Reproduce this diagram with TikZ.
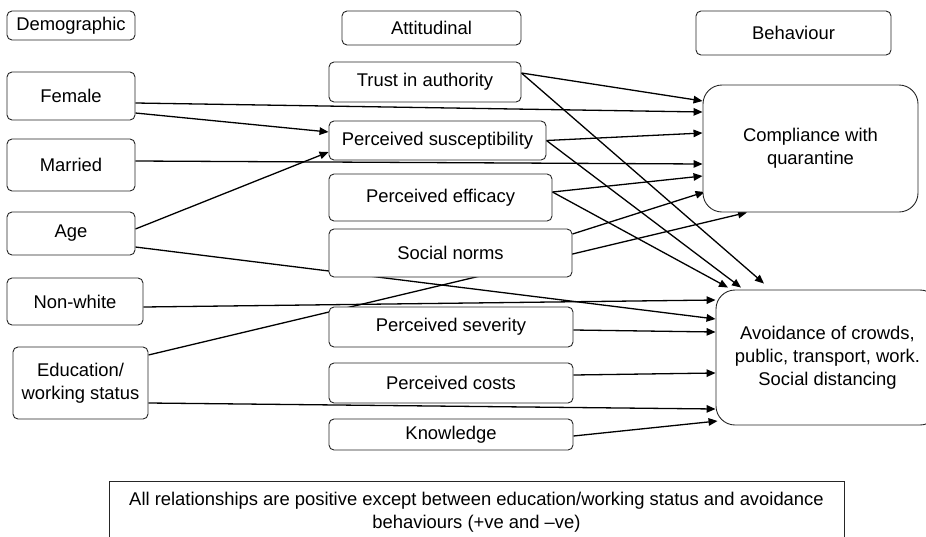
\documentclass[tikz,border=0pt]{standalone}
\usepackage{fontspec}
\setmainfont{Liberation Sans}
\usetikzlibrary{arrows.meta,backgrounds}
\begin{document}
\begin{tikzpicture}[x=1pt,y=-1pt,
  box/.style={draw=black!85, fill=white, rounded corners=5pt, line width=0.9pt,
    align=center, inner sep=0pt, font=\fontsize{18.4}{23}\selectfont},
  bigbox/.style={box, rounded corners=19pt},
  conn/.style={line width=1.3pt, -{Triangle[length=9pt,width=7.5pt]}},
  plain/.style={line width=1.3pt}]
\useasboundingbox (0,0) rectangle (926,536);
% demographic column
\node[box, minimum width=128pt, minimum height=29pt] (demo) at (71,25.5) {Demographic};
\node[box, minimum width=128pt, minimum height=48pt] (female) at (71,96) {Female};
\node[box, minimum width=128pt, minimum height=52pt] (married) at (71,165) {Married};
\node[box, minimum width=128pt, minimum height=43pt] (age) at (71,233.5) {Age};
\node[box, minimum width=136pt, minimum height=47pt] (nonwhite) at (75,301.5) {Non-white};
\node[box, minimum width=135pt, minimum height=72pt] (edu) at (80.5,383) {Education/\\working status};
% attitudinal column
\node[box, minimum width=179pt, minimum height=34pt] (att) at (431.5,28) {Attitudinal};
\node[box, minimum width=192pt, minimum height=40pt] (trust) at (425,82) {Trust in authority};
\node[box, minimum width=217pt, minimum height=39pt] (susc) at (437.5,140.5) {Perceived susceptibility};
\node[box, minimum width=223pt, minimum height=47pt] (eff) at (440.5,197.5) {Perceived efficacy};
\node[box, minimum width=243pt, minimum height=48pt] (norms) at (450.5,253) {Social norms};
\node[box, minimum width=244pt, minimum height=40pt] (sev) at (451,327) {Perceived severity};
\node[box, minimum width=244pt, minimum height=40pt] (costs) at (451,383) {Perceived costs};
\node[box, minimum width=244pt, minimum height=31pt] (know) at (451,434.5) {Knowledge};
% behaviour column
\node[box, minimum width=195pt, minimum height=44pt] (beh) at (793.5,33) {Behaviour};
\node[bigbox, minimum width=215pt, minimum height=127pt] (comp) at (810.5,148.5) {Compliance with\\quarantine};
\node[bigbox, minimum width=223pt, minimum height=135pt] (avoid) at (827.5,357.5) {Avoidance of crowds,\\public, transport, work.\\Social distancing};
% footer
\node[draw=black!85, fill=white, line width=0.9pt, inner sep=0pt, align=center,
  font=\fontsize{18.4}{23}\selectfont, minimum width=735pt, minimum height=62pt] (note) at (476.5,512)
  {All relationships are positive except between education/working status and avoidance\\behaviours (+ve and --ve)};
% connectors
\begin{scope}[on background layer]
\draw[conn] ([yshift=-7pt]female.east) -- ([yshift=36.5pt]comp.west);
\draw[conn] ([yshift=-17pt]female.east) -- ([yshift=8.5pt]susc.west);
\draw[conn] ([yshift=4pt]married.east) -- ([yshift=-15.5pt]comp.west);
\draw[conn] ([yshift=4.5pt]age.east) -- ([yshift=-11.5pt]susc.west);
\draw[conn] ([yshift=-13.5pt]age.east) -- ([yshift=38.5pt]avoid.west);
\draw[conn] ([yshift=-5.5pt]nonwhite.east) -- ([yshift=57.5pt]avoid.west);
\draw[conn] ([yshift=28pt]edu.east) -- ([xshift=-63.5pt]comp.south);
\draw[conn] ([yshift=-20pt]edu.east) -- ([yshift=-51.5pt]avoid.west);
\draw[conn] ([yshift=9pt]trust.east) -- ([yshift=47.5pt]comp.west);
\draw[conn] ([yshift=9pt]trust.east) -- ([xshift=-63.5pt,yshift=6pt]avoid.north);
\draw[conn] (susc.east) -- ([yshift=15.5pt]comp.west);
\draw[conn] (susc.east) -- ([xshift=-86.5pt,yshift=2pt]avoid.north);
\draw[conn] ([yshift=5.5pt]eff.east) -- ([yshift=-27.5pt]comp.west);
\draw[conn] ([yshift=5.5pt]eff.east) -- ([xshift=-99.5pt,yshift=2pt]avoid.north);
\draw[conn] ([yshift=19pt]norms.east) -- ([xshift=2pt,yshift=-43.5pt]comp.west);
\draw[conn] ([yshift=-3pt]sev.east) -- ([yshift=25.5pt]avoid.west);
\draw[conn] ([yshift=8pt]costs.east) -- ([yshift=-15.5pt]avoid.west);
\draw[conn] ([yshift=-1.5pt]know.east) -- ([xshift=2pt,yshift=-63.5pt]avoid.west);
\end{scope}
\end{tikzpicture}
\end{document}
